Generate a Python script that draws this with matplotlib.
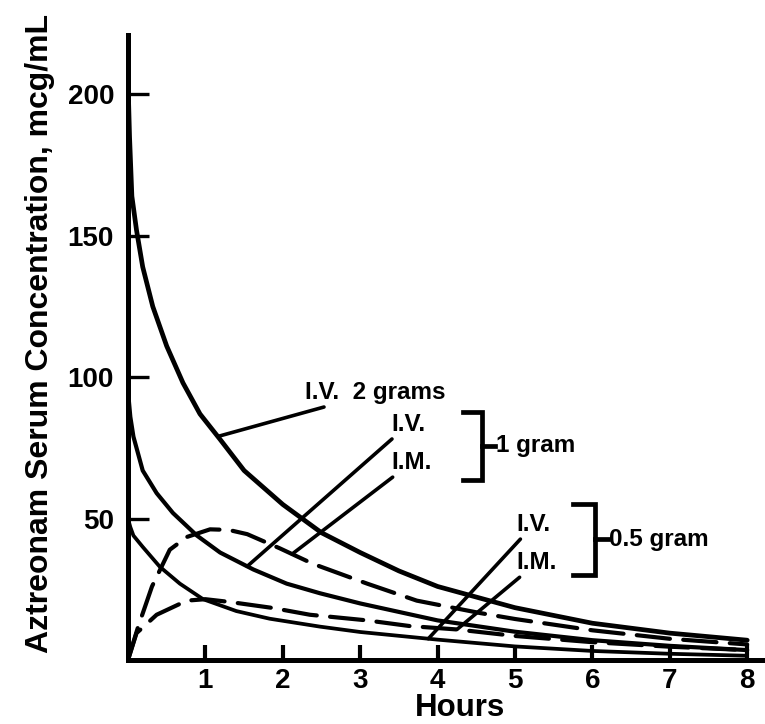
import numpy as np
import matplotlib.pyplot as plt

# Aztreonam serum levels, hours vs mcg/mL
t_iv2 = [0, 0.02, 0.05, 0.11, 0.19, 0.32, 0.5, 0.71, 0.93, 1.19, 1.5, 2, 2.5, 3, 3.5, 4, 5, 6, 7, 8]
c_iv2 = [205, 185, 164, 152, 139, 125, 111, 98, 87, 78, 67, 55, 45, 38, 31.5, 26, 18.5, 13, 9.5, 7]

t_iv1 = [0, 0.03, 0.07, 0.19, 0.37, 0.58, 0.89, 1.19, 1.62, 2.05, 2.48, 3, 4, 5, 6, 7, 8]
c_iv1 = [95, 86, 79, 67, 59, 52, 44, 38, 32, 27, 23.6, 20, 14, 10, 7, 5, 3.5]

t_iv05 = [0, 0.03, 0.07, 0.19, 0.41, 0.67, 0.97, 1.4, 1.83, 2.48, 3, 4, 5, 6, 7, 8]
c_iv05 = [50, 47, 44, 40, 33, 27, 21.5, 17.3, 14.6, 11.8, 9.9, 7.2, 4.8, 3.2, 2.2, 1.5]

t_im1 = [0, 0.13, 0.31, 0.54, 0.76, 1.06, 1.3, 1.54, 1.96, 2.39, 3.09, 3.73, 4.55, 5, 6, 7, 8]
c_im1 = [0, 11.7, 26, 39, 43.5, 46.2, 46, 44.5, 39.5, 34, 27, 21, 16.6, 14.5, 10.5, 7.5, 5.5]

t_im05 = [0, 0.11, 0.37, 0.76, 1.0, 1.32, 1.87, 2.35, 3.09, 3.64, 4.25, 5, 6, 7, 8]
c_im05 = [0, 9.5, 16, 21, 21.5, 20.5, 18.4, 16, 14, 12, 10.8, 8.5, 6.3, 4.7, 3.5]

x_ticks = [1, 2, 3, 4, 5, 6, 7, 8]
y_ticks = [50, 100, 150, 200]

plt.rcParams['font.family'] = ['Liberation Sans', 'DejaVu Sans']
plt.rcParams['font.weight'] = 'bold'

fig = plt.figure(figsize=(7.65, 7.24), dpi=100)
ax = fig.add_axes([128 / 765, 64 / 724, 637 / 765, 625 / 724])
ax.set_xlim(0, 8.23)
ax.set_ylim(0, 221)

k = 'black'
ax.plot(t_iv2, c_iv2, color=k, lw=3.4, solid_capstyle='round', solid_joinstyle='round')
ax.plot(t_iv1, c_iv1, color=k, lw=3.0, solid_capstyle='round', solid_joinstyle='round')
ax.plot(t_iv05, c_iv05, color=k, lw=2.7, solid_capstyle='round', solid_joinstyle='round')
ax.plot(t_im1, c_im1, color=k, lw=3.0, dashes=(8, 3.2), dash_capstyle='round')
ax.plot(t_im05, c_im05, color=k, lw=3.0, dashes=(8, 3.2), dash_capstyle='round')

for s in ['top', 'right']:
    ax.spines[s].set_visible(False)
for s in ['left', 'bottom']:
    ax.spines[s].set_linewidth(3.6)

ax.set_xticks(x_ticks)
ax.set_yticks(y_ticks)
ax.tick_params(axis='y', direction='in', length=15, width=2.4, pad=10, labelsize=20)
ax.tick_params(axis='x', direction='in', length=11, width=3, pad=6, labelsize=20)

ax.set_ylabel('Aztreonam Serum Concentration, mcg/mL', fontsize=23, fontweight='bold')
ax.yaxis.set_label_coords(-0.115, 0.523)
ax.set_xlabel('Hours', fontsize=22.5, fontweight='bold')
ax.xaxis.set_label_coords(0.521, -0.052)
ax.xaxis.label.set_va('top')

# leader lines from each curve to its label
def leader(tt, cc, t0, txt_xy, text):
    y0 = np.interp(t0, tt, cc)
    ax.annotate(text, xy=(t0, y0), xytext=txt_xy, fontsize=17.5, fontweight='bold',
                ha='left', va='center',
                arrowprops=dict(arrowstyle='-', color=k, lw=2.6, shrinkA=0, shrinkB=0))

leader(t_iv2, c_iv2, 1.16, (2.29, 94.5), 'I.V.  2 grams')
leader(t_iv1, c_iv1, 1.54, (3.40, 83.2), 'I.V.')
leader(t_im1, c_im1, 2.12, (3.40, 69.7), 'I.M.')
leader(t_iv05, c_iv05, 3.88, (5.02, 47.8), 'I.V.')
leader(t_im05, c_im05, 4.25, (5.02, 34.3), 'I.M.')

# dose brackets: (left x, right x, bottom y, top y, dash end x, label)
brackets = [(4.33, 4.57, 63.7, 87.8, 4.74, '1 gram'),
            (5.75, 6.03, 30.1, 55.2, 6.20, '0.5 gram')]
for x0, x1, y0, y1, xd, lab in brackets:
    ym = (y0 + y1) / 2
    ax.plot([x0, x1, x1, x0], [y1, y1, y0, y0], color=k, lw=3.4, solid_joinstyle='miter')
    ax.plot([x1, xd], [ym, ym], color=k, lw=3.4)
    ax.text(xd + 0.02, ym, lab, fontsize=17.5, fontweight='bold', ha='left', va='center')

fig.savefig('out.png', dpi=100)
